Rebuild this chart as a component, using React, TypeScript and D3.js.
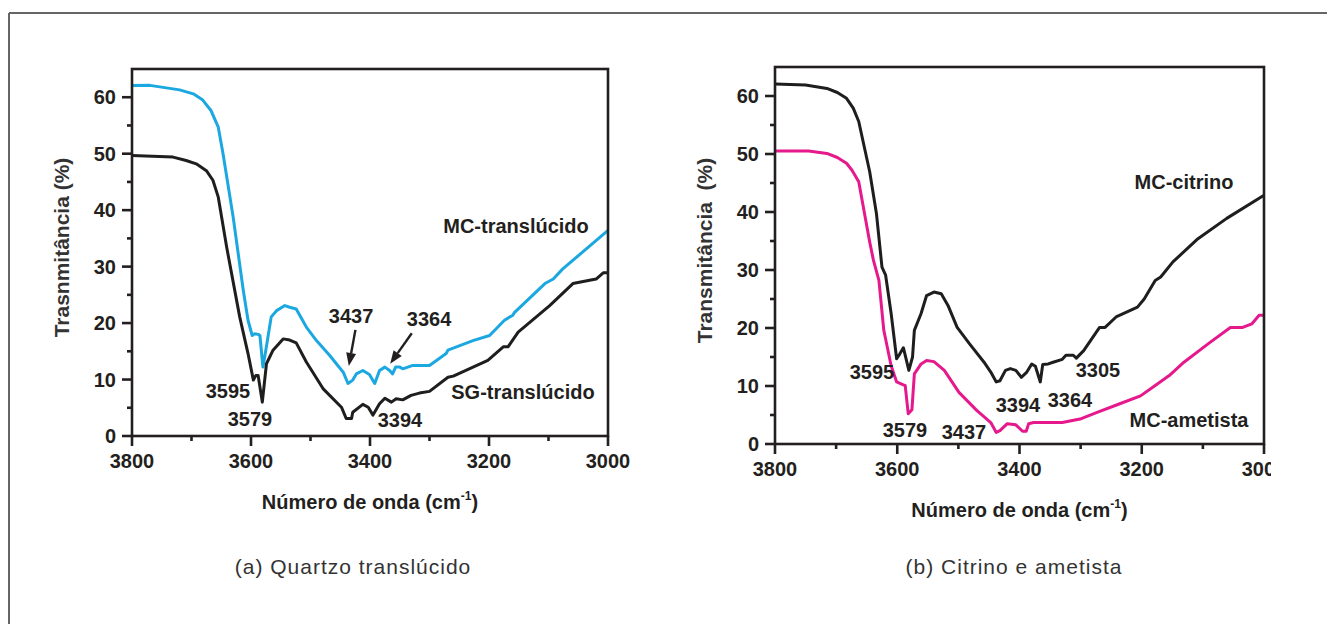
import React from 'react';
import * as d3 from 'd3';

type Pt = [number, number];

// [número de onda, transmitância]
const mcTranslucido: Pt[] = [
  [3800, 62.06], [3770, 62.1], [3720, 61.3], [3697, 60.6], [3681, 59.5], [3667, 57.6],
  [3655, 54.7], [3647, 50.0], [3630, 38.8], [3613, 25.8], [3605, 20.5], [3598, 17.8],
  [3594, 18.1], [3588, 18.0], [3585, 17.8], [3580, 12.2], [3576, 14.6], [3566, 21.1],
  [3557, 22.2], [3543, 23.1], [3535, 22.8], [3524, 22.5], [3507, 19.3], [3490, 16.9],
  [3468, 14.3], [3445, 11.3], [3437, 9.3], [3429, 9.9], [3423, 11.0], [3412, 11.6],
  [3401, 10.9], [3392, 9.3], [3384, 11.6], [3375, 12.2], [3367, 11.6], [3362, 11.0],
  [3357, 12.2], [3350, 12.2], [3345, 11.9], [3328, 12.5], [3300, 12.5], [3272, 14.6],
  [3269, 15.2], [3227, 16.9], [3199, 17.8], [3174, 20.5], [3160, 21.4], [3157, 21.9],
  [3106, 27.0], [3092, 27.8], [3076, 29.6], [3000, 36.4],
];

const sgTranslucido: Pt[] = [
  [3800, 49.7], [3731, 49.4], [3709, 48.8], [3692, 48.2], [3675, 47.0], [3664, 45.3],
  [3655, 42.3], [3641, 33.5], [3619, 21.1], [3605, 14.6], [3596, 9.9], [3592, 10.7],
  [3588, 10.7], [3581, 6.0], [3574, 12.8], [3563, 15.2], [3546, 17.2], [3535, 17.0],
  [3524, 16.5], [3507, 13.1], [3479, 8.4], [3448, 5.1], [3440, 3.1], [3431, 3.1],
  [3429, 4.2], [3412, 5.6], [3403, 5.1], [3395, 3.7], [3384, 5.7], [3375, 6.7],
  [3364, 6.0], [3356, 6.6], [3345, 6.4], [3331, 7.2], [3317, 7.6], [3300, 7.9],
  [3269, 10.4], [3260, 10.6], [3202, 13.4], [3176, 15.8], [3168, 15.8], [3151, 18.4],
  [3098, 23.1], [3059, 27.0], [3020, 27.8], [3008, 28.9], [3000, 28.9],
];

const mcCitrino: Pt[] = [
  [3800, 62.06], [3750, 61.9], [3715, 61.3], [3698, 60.6], [3683, 59.6], [3672, 57.9],
  [3663, 55.6], [3645, 46.9], [3634, 39.7], [3625, 30.5], [3619, 29.1], [3610, 22.5],
  [3601, 14.7], [3596, 15.5], [3590, 16.6], [3581, 12.7], [3575, 15.0], [3572, 19.6],
  [3561, 22.5], [3552, 25.6], [3540, 26.2], [3528, 25.9], [3517, 23.9], [3502, 20.1],
  [3482, 17.3], [3458, 14.1], [3447, 12.4], [3438, 10.7], [3432, 10.9], [3423, 12.7],
  [3415, 13.0], [3406, 12.7], [3397, 11.5], [3388, 12.4], [3380, 13.8], [3374, 13.4],
  [3366, 10.7], [3362, 13.7], [3353, 13.8], [3345, 14.1], [3330, 14.6], [3324, 15.3],
  [3312, 15.3], [3307, 14.8], [3295, 16.1], [3269, 20.1], [3260, 20.1], [3242, 21.9],
  [3207, 23.6], [3196, 25.0], [3178, 28.2], [3169, 28.8], [3149, 31.4], [3108, 35.4],
  [3061, 38.9], [3000, 42.9],
];

const mcAmetista: Pt[] = [
  [3800, 50.5], [3745, 50.5], [3715, 50.1], [3698, 49.4], [3683, 48.4], [3674, 47.2],
  [3663, 45.2], [3645, 34.8], [3639, 31.7], [3630, 28.2], [3622, 19.6], [3610, 13.5],
  [3601, 10.7], [3590, 10.2], [3587, 10.1], [3582, 5.2], [3576, 5.9], [3572, 12.1],
  [3561, 13.8], [3552, 14.4], [3540, 14.2], [3523, 12.7], [3499, 8.9], [3470, 5.8],
  [3447, 3.7], [3438, 2.0], [3432, 2.3], [3420, 3.5], [3406, 3.3], [3395, 2.2],
  [3389, 2.2], [3385, 3.5], [3377, 3.7], [3330, 3.7], [3301, 4.3], [3272, 5.5],
  [3237, 6.9], [3202, 8.3], [3178, 10.1], [3155, 11.8], [3131, 14.1], [3091, 17.3],
  [3055, 20.1], [3035, 20.1], [3020, 20.7], [3008, 22.2], [3000, 22.2],
];

const xDomain: Pt = [3800, 3000];
const yDomain: Pt = [0, 65];

// rótulos: texto, número de onda e transmitância do centro
const labelsA: [string, number, number][] = [
  ['MC-translúcido', 3154.6, 37.2],
  ['SG-translúcido', 3142.9, 7.8],
  ['3595', 3638.7, 8.0],
  ['3579', 3601.7, 3.0],
  ['3437', 3431.9, 21.3],
  ['3364', 3300.8, 20.7],
  ['3394', 3349.6, 2.8],
];
// setas: de (wn, t) até (wn, t)
const arrowsA: [number, number, number, number][] = [
  [3424.5, 18.8, 3435.6, 12.4],
  [3329.8, 18.2, 3366.1, 12.8],
];

const labelsB: [string, number, number][] = [
  ['MC-citrino', 3130.9, 45.2],
  ['MC-ametista', 3122.7, 4.1],
  ['3595', 3641.3, 12.4],
  ['3579', 3587.3, 2.4],
  ['3437', 3490.8, 2.1],
  ['3394', 3402.5, 6.7],
  ['3364', 3317.4, 7.6],
  ['3305', 3271.6, 12.8],
];

const FONT = '"Liberation Sans", Arial, Helvetica, sans-serif';
const INK = '#231f20';

type PanelProps = {
  id: string;
  left: number; right: number; top: number; bottom: number;
  series: { data: Pt[]; color: string }[];
  labels: [string, number, number][];
  arrows: [number, number, number, number][];
  yTitle: string;
  caption: string;
  captionX: number;
  clipRight?: number;
};

function Panel(p: PanelProps) {
  const x = d3.scaleLinear().domain(xDomain).range([p.left, p.right]);
  const y = d3.scaleLinear().domain(yDomain).range([p.bottom, p.top]);
  const line = d3.line<Pt>().x(d => x(d[0])).y(d => y(d[1])).curve(d3.curveLinear);
  const xt = x.ticks(8);
  const yt = d3.range(0, 61, 5);
  const midX = (p.left + p.right) / 2;
  const midY = (p.top + p.bottom) / 2;

  return (
    <g>
      {p.clipRight && (
        <clipPath id={`clip-${p.id}`}>
          <rect x={0} y={0} width={p.clipRight} height={624} />
        </clipPath>
      )}
      {p.series.map((s, i) => (
        <path key={i} d={line(s.data) || ''} fill="none" stroke={s.color}
          strokeWidth={3} strokeLinejoin="round" />
      ))}
      {/* moldura */}
      <rect x={p.left} y={p.top} width={p.right - p.left} height={p.bottom - p.top}
        fill="none" stroke={INK} strokeWidth={2.6} />
      {xt.map(v => (
        <line key={'xt' + v} x1={x(v)} x2={x(v)} y1={p.bottom}
          y2={p.bottom + (v % 200 === 0 ? 10 : 5)} stroke={INK} strokeWidth={2.6} />
      ))}
      {yt.map(v => (
        <line key={'yt' + v} x1={p.left} x2={p.left - (v % 10 === 0 ? 10 : 5)}
          y1={y(v)} y2={y(v)} stroke={INK} strokeWidth={2.6} />
      ))}
      <g clipPath={p.clipRight ? `url(#clip-${p.id})` : undefined}>
        {xt.filter(v => v % 200 === 0).map(v => (
          <text key={'xl' + v} x={x(v)} y={p.bottom + 32} textAnchor="middle"
            fontFamily={FONT} fontWeight="bold" fontSize={20} fill={INK}>{v}</text>
        ))}
      </g>
      {yt.filter(v => v % 10 === 0).map(v => (
        <text key={'yl' + v} x={p.left - 16} y={y(v)} dy="0.36em" textAnchor="end"
          fontFamily={FONT} fontWeight="bold" fontSize={20} fill={INK}>{v}</text>
      ))}
      <text x={midX} y={p.bottom + 73} textAnchor="middle" fontFamily={FONT}
        fontWeight="bold" fontSize={20} fill={INK}>
        Número de onda (cm<tspan fontSize={12} dy={-9}>-1</tspan><tspan dy={9}>)</tspan>
      </text>
      <text transform={`translate(${p.left - 70},${midY - 5}) rotate(-90)`}
        textAnchor="middle" dy="0.35em" fontFamily={FONT} fontWeight="bold"
        fontSize={21} fill="#333" style={{ whiteSpace: 'pre' }}>{p.yTitle}</text>
      {p.labels.map(([t, wn, v], i) => (
        <text key={'lb' + i} x={x(wn)} y={y(v)} dy="0.36em" textAnchor="middle"
          fontFamily={FONT} fontWeight="bold" fontSize={20} fill={INK}>{t}</text>
      ))}
      {p.arrows.map(([w1, v1, w2, v2], i) => {
        const x1 = x(w1), y1 = y(v1), x2 = x(w2), y2 = y(v2);
        const a = Math.atan2(y2 - y1, x2 - x1);
        const L = 13, W = 5;
        const bx = x2 - L * Math.cos(a), by = y2 - L * Math.sin(a);
        const head = `M${x2},${y2}L${bx + W * Math.sin(a)},${by - W * Math.cos(a)}L${bx - W * Math.sin(a)},${by + W * Math.cos(a)}Z`;
        return (
          <g key={'ar' + i}>
            <line x1={x1} y1={y1} x2={bx} y2={by} stroke={INK} strokeWidth={2.4} />
            <path d={head} fill={INK} />
          </g>
        );
      })}
      <text x={p.captionX} y={574} textAnchor="middle" fontFamily={FONT}
        fontSize={21} letterSpacing={1} fill="#333">{p.caption}</text>
    </g>
  );
}

export default function App() {
  return (
    <svg width={1327} height={624} style={{ position: 'absolute', left: 0, top: 0, background: '#fff' }}>
      <rect x={0} y={0} width={1327} height={624} fill="#fff" />
      <line x1={9} y1={13} x2={1327} y2={13} stroke="#666" strokeWidth={2} />
      <line x1={9} y1={13} x2={9} y2={624} stroke="#666" strokeWidth={2} />
      <Panel id="a" left={132} right={608} top={69} bottom={436}
        series={[{ data: mcTranslucido, color: '#1ba8e0' }, { data: sgTranslucido, color: '#1e1e1e' }]}
        labels={labelsA} arrows={arrowsA}
        yTitle="Trasnmitância (%)" caption="(a) Quartzo translúcido" captionX={353} />
      <Panel id="b" left={775} right={1264} top={67} bottom={444}
        series={[{ data: mcCitrino, color: '#1e1e1e' }, { data: mcAmetista, color: '#e5198c' }]}
        labels={labelsB} arrows={[]}
        yTitle={'Transmitância  (%)'} caption="(b) Citrino e ametista" captionX={1014}
        clipRight={1271} />
    </svg>
  );
}
